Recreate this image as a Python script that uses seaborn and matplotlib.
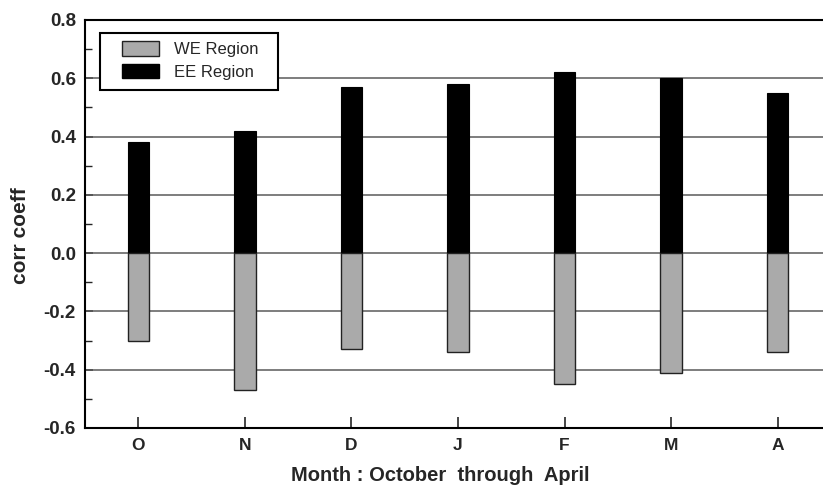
import matplotlib
matplotlib.use("Agg")
import matplotlib.pyplot as plt
from matplotlib.patches import Patch, Rectangle
from matplotlib.ticker import MultipleLocator
import seaborn as sns
import pandas as pd

# Monthly correlation coefficients, October through April
months = ["O", "N", "D", "J", "F", "M", "A"]
we_region = [-0.30, -0.47, -0.33, -0.34, -0.45, -0.41, -0.34]
ee_region = [0.38, 0.42, 0.57, 0.58, 0.62, 0.60, 0.55]
y_ticks = [-0.6, -0.4, -0.2, 0.0, 0.2, 0.4, 0.6, 0.8]

df = pd.DataFrame({"month": months, "WE Region": we_region, "EE Region": ee_region})

sns.set_theme(style="white")
plt.rcParams["font.family"] = ["Liberation Sans", "DejaVu Sans"]

fig = plt.figure(figsize=(8.23, 4.92), dpi=100)
# axes run slightly past the right edge of the canvas
ax = fig.add_axes([85 / 823, 1 - 428 / 492, 746 / 823, 408 / 492])

gray = "#aaaaaa"
sns.barplot(data=df, x="month", y="EE Region", order=months, color="black",
            saturation=1, width=0.2, edgecolor="black", linewidth=0.8, ax=ax, zorder=3)
sns.barplot(data=df, x="month", y="WE Region", order=months, color=gray,
            saturation=1, width=0.2, edgecolor="#222222", linewidth=1.0, ax=ax, zorder=3)

ax.set_xlim(-0.5, 6.5)
ax.set_ylim(-0.6, 0.8)
ax.set_yticks(y_ticks)
ax.set_yticklabels([f"{t:.1f}" for t in y_ticks])
ax.yaxis.set_minor_locator(MultipleLocator(0.1))

# horizontal reference lines at the inner major ticks
for t in y_ticks[1:-1]:
    ax.axhline(t, color="#5a5a5a", linewidth=1.1, zorder=1)

for side in ["left", "bottom", "top"]:
    ax.spines[side].set_visible(True)
    ax.spines[side].set_color("black")
    ax.spines[side].set_linewidth(1.5)
ax.spines["right"].set_visible(False)

ax.tick_params(axis="y", which="major", direction="in", length=6, width=1.2,
               left=True, pad=6.5, labelsize=13.5)
ax.tick_params(axis="y", which="minor", direction="in", length=5, width=1.0, left=True)
ax.tick_params(axis="x", which="major", direction="in", length=8, width=1.2,
               bottom=True, pad=7, labelsize=12.5)
for lbl in ax.get_xticklabels() + ax.get_yticklabels():
    lbl.set_fontweight("bold")

ax.set_xlabel("Month : October  through  April", fontsize=14.5, fontweight="bold")
ax.set_ylabel("corr coeff", fontsize=15, fontweight="bold")
ax.xaxis.set_label_coords((440 - 85) / 746, (428 - 466) / 408)
ax.yaxis.set_label_coords((30 - 85) / 746, (428 - 236) / 408)

# legend
handles = [Patch(facecolor=gray, edgecolor="#222222", linewidth=1.0, label="WE Region"),
           Patch(facecolor="black", edgecolor="black", label="EE Region")]
leg = ax.legend(handles=handles, loc="upper left",
                bbox_to_anchor=((122 - 85) / 746, (428 - 41) / 408),
                frameon=False, fontsize=12, borderpad=0, borderaxespad=0,
                handlelength=2.2, handleheight=1.0, handletextpad=0.95,
                labelspacing=0.38)
leg.set_zorder(5)
ax.add_patch(Rectangle(((100 - 85) / 746, (428 - 90) / 408),
                       (278 - 100) / 746, (90 - 33) / 408,
                       transform=ax.transAxes, fill=True, facecolor="white",
                       edgecolor="black", linewidth=1.5, zorder=4))

fig.savefig("out.png", dpi=100)
